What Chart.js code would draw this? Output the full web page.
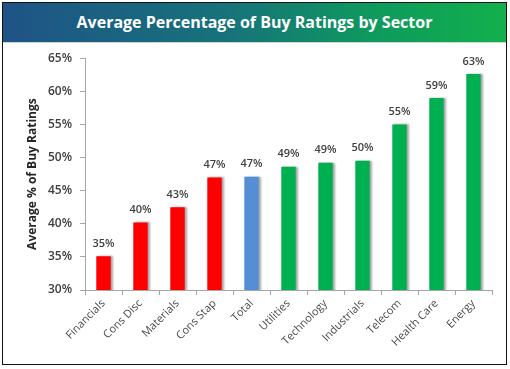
<!DOCTYPE html>
<html>
<head>
<meta charset="utf-8">
<script src="https://cdn.jsdelivr.net/npm/chart.js@4"></script>
<style>
  html, body { margin: 0; padding: 0; background: #fff; }
  #frame {
    position: absolute; left: 2px; top: 2px; width: 503px; height: 361px;
    border: 1px solid #111; background: #fff; overflow: hidden;
  }
  #title {
    height: 39px; line-height: 38px; text-align: center; color: #fff;
    font-family: 'Open Sans', sans-serif; font-weight: 700; font-size: 16px;
    background: linear-gradient(to right, #1f5387 0%, #16737a 45%, #0e9b5c 75%, #12b04c 100%);
    border-bottom: 1px solid #c8d8d0;
  }
  #chart { display: block; }
</style>
</head>
<body>
<div id="frame">
  <div id="title">Average Percentage of Buy Ratings by Sector</div>
  <canvas id="chart" width="503" height="321"></canvas>
</div>
<script>
// Data
const sectors = ['Financials', 'Cons Disc', 'Materials', 'Cons Stap', 'Total', 'Utilities',
                 'Technology', 'Industrials', 'Telecom', 'Health Care', 'Energy'];
const buyRatings = [35.1, 40.2, 42.5, 47.0, 47.1, 48.6, 49.2, 49.5, 55.0, 59.0, 62.6];
const barColors = ['#ff0000', '#ff0000', '#ff0000', '#ff0000', '#558ed5', '#00b050',
                   '#00b050', '#00b050', '#00b050', '#00b050', '#00b050'];
const yTicks = [30, 35, 40, 45, 50, 55, 60, 65];

const labelFont = "'Open Sans', sans-serif";

// value labels above bars + soft shadow on bars
const barExtras = {
    id: 'barExtras',
    beforeDatasetDraw(chart) {
        const ctx = chart.ctx;
        ctx.save();
        ctx.shadowColor = 'rgba(0,0,0,0.35)';
        ctx.shadowOffsetX = 2;
        ctx.shadowOffsetY = 0;
        ctx.shadowBlur = 2;
    },
    afterDatasetDraw(chart) {
        chart.ctx.restore();
    },
    afterDatasetsDraw(chart) {
        const ctx = chart.ctx;
        const meta = chart.getDatasetMeta(0);
        ctx.save();
        ctx.font = '600 11px ' + labelFont;
        ctx.fillStyle = '#404040';
        ctx.textAlign = 'center';
        ctx.textBaseline = 'bottom';
        meta.data.forEach((bar, i) => {
            ctx.fillText(Math.round(buyRatings[i]) + '%', bar.x, bar.y - 7);
        });
        ctx.restore();
    }
};

new Chart(document.getElementById('chart'), {
    type: 'bar',
    data: {
        labels: sectors,
        datasets: [{
            data: buyRatings,
            backgroundColor: barColors,
            borderWidth: 0,
            barPercentage: 0.39,
            categoryPercentage: 1
        }]
    },
    options: {
        responsive: false,
        animation: false,
        layout: { padding: { top: 14, right: 14, left: 0, bottom: 0 } },
        plugins: {
            legend: { display: false },
            tooltip: { enabled: false }
        },
        scales: {
            x: {
                offset: true,
                grid: {
                    offset: true,
                    drawOnChartArea: false,
                    drawTicks: true,
                    tickLength: 5,
                    color: '#a6a6a6'
                },
                border: { color: '#a6a6a6' },
                ticks: {
                    maxRotation: 45,
                    minRotation: 45,
                    padding: 2,
                    color: '#4a4a4a',
                    font: { family: labelFont, size: 11 }
                },
                afterFit(scale) { scale.height = 74; }
            },
            y: {
                min: 30,
                max: 65,
                afterBuildTicks(scale) {
                    scale.ticks = yTicks.map(v => ({ value: v }));
                },
                grid: {
                    drawOnChartArea: false,
                    drawTicks: true,
                    tickLength: 5,
                    color: '#a6a6a6'
                },
                border: { color: '#a6a6a6' },
                ticks: {
                    padding: 8,
                    color: '#404040',
                    font: { family: labelFont, size: 12, weight: '600' },
                    callback: v => v + '%'
                },
                title: {
                    display: true,
                    text: 'Average % of Buy Ratings',
                    color: '#262626',
                    font: { family: labelFont, size: 12, weight: '700' },
                    padding: { top: 22, bottom: 0 }
                },
                afterFit(scale) { scale.width = 82; }
            }
        }
    },
    plugins: [barExtras]
});
</script>
</body>
</html>
